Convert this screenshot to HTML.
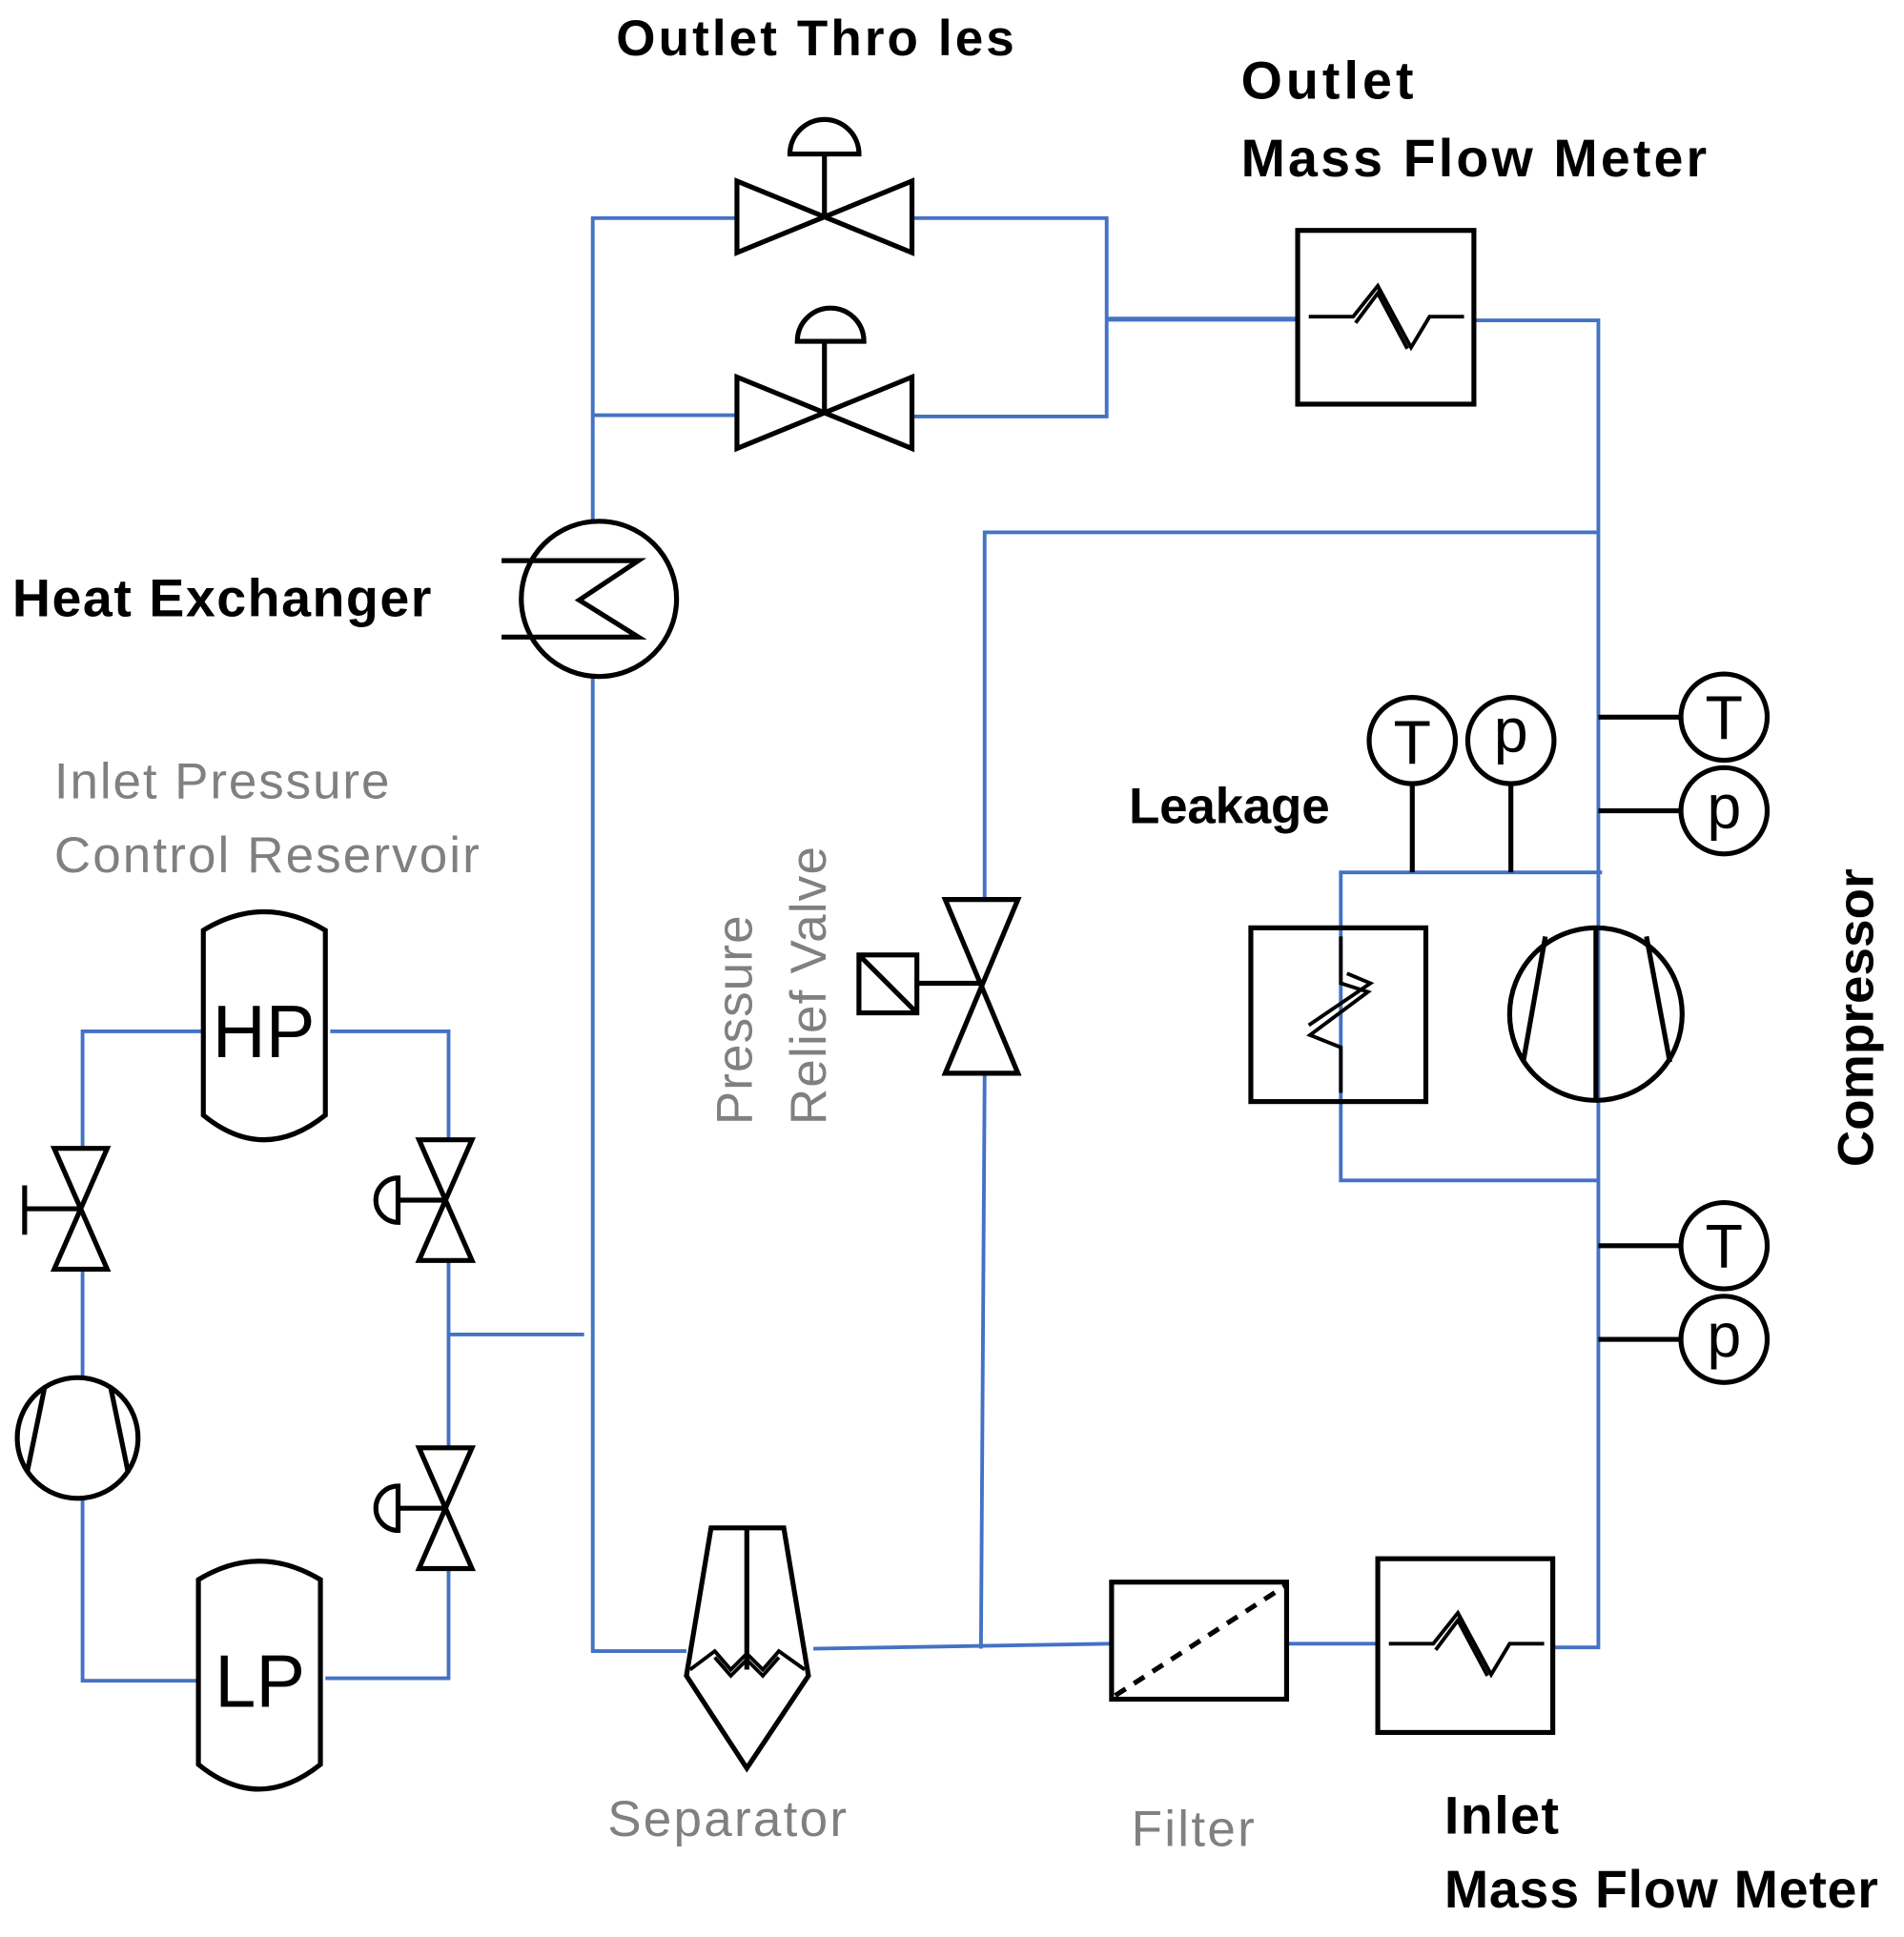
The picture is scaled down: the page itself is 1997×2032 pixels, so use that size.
<!DOCTYPE html>
<html><head><meta charset="utf-8"><style>
html,body{margin:0;padding:0;background:#fff}
svg{display:block}
text{font-family:"Liberation Sans",sans-serif}
.b{fill:#000;font-weight:bold}
.g{fill:#808080}
.bl{stroke:#4472C4;stroke-width:3;fill:none}
.k{stroke:#000;stroke-width:4;fill:none}
</style></head><body>
<svg width="1997" height="2032" viewBox="0 0 1545 1572" preserveAspectRatio="none" xmlns="http://www.w3.org/2000/svg">
<g class="bl">
<polyline points="598,177 481,177 481,422"/>
<line x1="481" y1="337" x2="598" y2="337"/>
<polyline points="740,177 898,177 898,338 740,338"/>
<line x1="898" y1="259" x2="1053" y2="259" stroke-width="4"/>
<polyline points="1196,260 1297,260 1297,1337 1260,1337"/>
<polyline points="799,730 799,432 1297,432"/>
<polyline points="481,548 481,1340 557,1340"/>
<line x1="799" y1="872" x2="796" y2="1338"/>
<line x1="660" y1="1338" x2="902" y2="1334"/>
<line x1="1044" y1="1334" x2="1118" y2="1334"/>
<polyline points="1300,708 1088,708 1088,958 1297,958"/>
<line x1="364" y1="1083" x2="474" y2="1083"/>
<polyline points="67,932 67,837 165,837"/>
<polyline points="268,837 364,837 364,925"/>
<line x1="364" y1="1023" x2="364" y2="1175"/>
<polyline points="364,1273 364,1362 264,1362"/>
<polyline points="160,1364 67,1364 67,1217"/>
<line x1="67" y1="1030" x2="67" y2="1117"/>
</g>
<g class="k">
<polygon points="598,147 598,205 740,147 740,205"/>
<line x1="669" y1="176" x2="669" y2="125"/>
<path d="M641,125 A28,28 0 0 1 697,125 Z"/>
<polygon points="598,306 598,364 740,306 740,364"/>
<line x1="669" y1="335" x2="669" y2="277"/>
<path d="M647,277 A22,22 0 0 1 701,277 Z"/>
<rect x="1053" y="187" width="143" height="141"/>
<polyline points="1062,257 1098,257 1118,232 1145,282 1160,257 1188,257" stroke-width="3"/>
<polyline points="1100,262 1118,238 1142,283" stroke-width="3"/>
<circle cx="486" cy="486" r="63"/>
<polyline points="407,455 518,455 470,487 518,517 407,517"/>
<polygon points="767,730 826,730 767,871 826,871"/>
<line x1="744" y1="798" x2="796" y2="798"/>
<rect x="697" y="775" width="47" height="47"/>
<line x1="697" y1="775" x2="744" y2="822"/>
<rect x="1015" y="753" width="142" height="141"/>
<polyline points="1088,760 1088,798 1110,805 1063,840 1088,850 1088,887" stroke-width="3"/>
<polyline points="1093,790 1112,798 1062,832" stroke-width="3"/>
<circle cx="1295" cy="823" r="70"/>
<line x1="1295" y1="753" x2="1295" y2="893"/>
<line x1="1254" y1="760" x2="1236" y2="862"/>
<line x1="1336" y1="760" x2="1355" y2="862"/>
<circle cx="1146" cy="601" r="35"/><line x1="1146" y1="636" x2="1146" y2="708"/>
<circle cx="1226" cy="601" r="35"/><line x1="1226" y1="636" x2="1226" y2="708"/>
<circle cx="1399" cy="582" r="35"/><line x1="1297" y1="582" x2="1364" y2="582"/>
<circle cx="1399" cy="658" r="35"/><line x1="1297" y1="658" x2="1364" y2="658"/>
<circle cx="1399" cy="1011" r="35"/><line x1="1297" y1="1011" x2="1364" y2="1011"/>
<circle cx="1399" cy="1087" r="35"/><line x1="1297" y1="1087" x2="1364" y2="1087"/>
<rect x="902" y="1284" width="142" height="95"/>
<line x1="905" y1="1376" x2="1043" y2="1287" stroke-dasharray="10,8"/>
<rect x="1118" y="1265" width="142" height="141"/>
<polyline points="1127,1334 1163,1334 1183,1309 1210,1359 1225,1334 1253,1334" stroke-width="3"/>
<polyline points="1165,1339 1183,1315 1207,1360" stroke-width="3"/>
<polygon points="577,1240 636,1240 656,1360 606,1435 557,1360"/>
<line x1="606" y1="1240" x2="606" y2="1355"/>
<polyline points="560,1355 580,1340 593,1355 606,1342 619,1355 632,1340 653,1355" stroke-width="3"/>
<polyline points="580,1345 593,1360 606,1347 619,1360 632,1345" stroke-width="3"/>
<path d="M165,905 L165,755 Q214,725 264,755 L264,905 Q214,945 165,905 Z"/>
<path d="M161,1432 L161,1282 Q210,1252 260,1282 L260,1432 Q210,1472 161,1432 Z"/>
<polygon points="44,932 87,932 44,1030 87,1030"/>
<line x1="20" y1="981" x2="65" y2="981"/><line x1="20" y1="962" x2="20" y2="1002"/>
<polygon points="340,925 383,925 340,1023 383,1023"/>
<line x1="323" y1="974" x2="361" y2="974"/>
<path d="M323,956 A18,18 0 0 0 323,992 Z"/>
<polygon points="340,1175 383,1175 340,1273 383,1273"/>
<line x1="323" y1="1224" x2="361" y2="1224"/>
<path d="M323,1206 A18,18 0 0 0 323,1242 Z"/>
<circle cx="63" cy="1167" r="49"/>
<line x1="36" y1="1127" x2="22" y2="1195"/>
<line x1="90" y1="1127" x2="104" y2="1195"/>
</g>
<text class="b" x="500" y="45" font-size="41" textLength="323">Outlet Thro   les</text>
<text class="b" x="1007" y="80" font-size="43" textLength="140">Outlet</text>
<text class="b" x="1007" y="143" font-size="43" textLength="378">Mass Flow Meter</text>
<text class="b" x="10" y="500" font-size="43" textLength="340">Heat Exchanger</text>
<text class="b" x="916" y="668" font-size="41" textLength="163">Leakage</text>
<text class="b" x="1172" y="1488" font-size="43" textLength="93">Inlet</text>
<text class="b" x="1172" y="1548" font-size="43" textLength="352">Mass Flow Meter</text>
<text class="b" font-size="41" transform="translate(1520,947) rotate(-90)" textLength="242">Compressor</text>
<text class="g" x="44" y="648" font-size="41" textLength="272">Inlet Pressure</text>
<text class="g" x="44" y="708" font-size="41" textLength="345">Control Reservoir</text>
<text class="g" x="493" y="1490" font-size="41" textLength="194">Separator</text>
<text class="g" x="918" y="1498" font-size="41" textLength="100">Filter</text>
<text class="g" font-size="41" transform="translate(610,913) rotate(-90)" textLength="170">Pressure</text>
<text class="g" font-size="41" transform="translate(670,913) rotate(-90)" textLength="226">Relief Valve</text>
<text x="1399" y="600" font-size="50" text-anchor="middle">T</text>
<text x="1399" y="672" font-size="50" text-anchor="middle">p</text>
<text x="1399" y="1029" font-size="50" text-anchor="middle">T</text>
<text x="1399" y="1101" font-size="50" text-anchor="middle">p</text>
<text x="1146" y="620" font-size="50" text-anchor="middle">T</text>
<text x="1226" y="610" font-size="50" text-anchor="middle">p</text>
<text x="214" y="858" font-size="60" text-anchor="middle">HP</text>
<text x="211" y="1385" font-size="60" text-anchor="middle">LP</text>
</svg>
</body></html>
